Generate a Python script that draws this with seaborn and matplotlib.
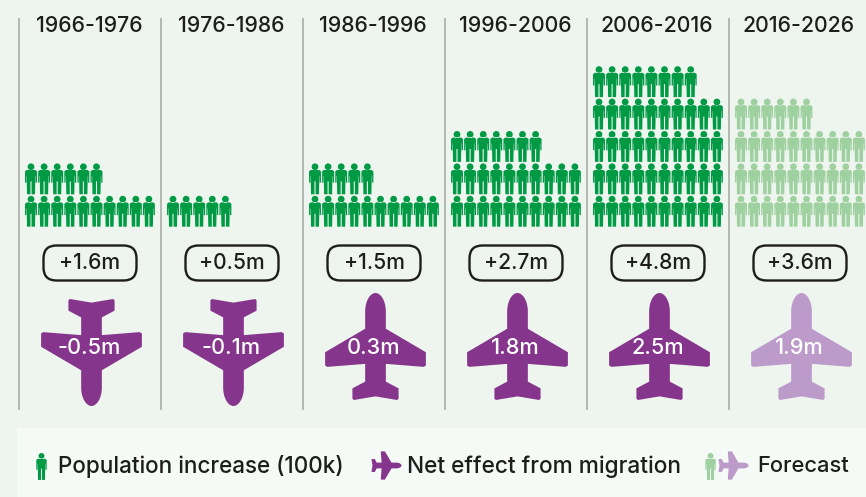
import numpy as np
import pandas as pd
import seaborn as sns
import matplotlib
matplotlib.use("Agg")
import matplotlib.pyplot as plt
from matplotlib.path import Path
from matplotlib.patches import FancyBboxPatch, Rectangle
from matplotlib.transforms import Affine2D

periods = ["1966-1976", "1976-1986", "1986-1996", "1996-2006", "2006-2016", "2016-2026"]
pop_increase = [1.6, 0.5, 1.5, 2.7, 4.8, 3.6]
pop_labels = ["+1.6m", "+0.5m", "+1.5m", "+2.7m", "+4.8m", "+3.6m"]
migration = [-0.5, -0.1, 0.3, 1.8, 2.5, 1.9]
mig_labels = ["-0.5m", "-0.1m", "0.3m", "1.8m", "2.5m", "1.9m"]
forecast = [False, False, False, False, False, True]
legend_labels = ["Population increase (100k)", "Net effect from migration", "Forecast"]

BG = "#EEF5EE"
PANEL = "#F5FAF6"
GREEN = "#009A44"
GREEN_L = "#9ED0A0"
PURPLE = "#85358C"
PURPLE_L = "#BC9BCB"
INK = "#1D1D1B"
RULE = "#A3A8A3"

sns.set_theme(style="white")
plt.rcParams["font.family"] = ["Inter", "DejaVu Sans"]


def person_path():
    head = Path.circle((0, 12.2), 3.4)
    r = [(0, 9.0), (4.2, 9.0), (6.0, 7.6), (6.0, -3.8), (4.7, -3.8), (4.7, 3.0), (4.4, 3.0),
         (4.0, -15.5), (0.55, -15.5), (0.55, -2.5)]
    l = [(-x, y) for x, y in reversed(r[1:])]
    pts = r + l
    body = Path(pts + [pts[0]], [Path.MOVETO] + [Path.LINETO] * (len(pts) - 1) + [Path.CLOSEPOLY])
    return Path.make_compound_path(head, body)


def plane_path():
    L, C = Path.LINETO, Path.CURVE4
    v = [(0, -49.7), (21.5, -53.3), (23, -52), (23, -41.7), (10.3, -35), (10.3, -17.3),
         (48, -20.3), (50.2, -19), (50.2, -5.7), (10.3, 17.7), (10.3, 35),
         (10.3, 45), (5.5, 53.3), (0, 53.3),
         (-5.5, 53.3), (-10.3, 45), (-10.3, 35), (-10.3, 17.7), (-50.2, -5.7), (-50.2, -19),
         (-48, -20.3), (-10.3, -17.3), (-10.3, -35), (-23, -41.7), (-23, -52), (-21.5, -53.3), (0, -49.7)]
    c = [Path.MOVETO, L, L, L, L, L, L, L, L, L, L, C, C, C, C, C, C, L, L, L, L, L, L, L, L, L, L]
    return Path(v, c)


PERSON = person_path()
PLANE_UP = plane_path()
PLANE_DOWN = PLANE_UP.transformed(Affine2D().scale(1, -1))
PLANE_RIGHT = PLANE_UP.transformed(Affine2D().rotate_deg(-90))

fig = plt.figure(figsize=(8.66, 4.97), dpi=100, facecolor=BG)
ax = fig.add_axes([0, 0, 1, 1], facecolor=BG)
ax.set_xlim(0, 866)
ax.set_ylim(497, 0)
ax.axis("off")

PX = 72 / fig.dpi
COL0, COLW = 19, 142


def marker_area(length_px):
    return (length_px * PX) ** 2


# column rules and headers
for i, p in enumerate(periods):
    left = COL0 + COLW * i
    ax.plot([left, left], [18, 410], color=RULE, lw=1.1, solid_capstyle="butt", zorder=1)
    ax.text(left + 70, 26.5, p, ha="center", va="center", fontsize=15.3, fontweight="medium", color=INK)

# people: one icon per 100k
rows = []
for i, (v, f) in enumerate(zip(pop_increase, forecast)):
    for k in range(int(round(v * 10))):
        rows.append({"x": COL0 + COLW * i + 12 + (k % 10) * 13.1,
                     "y": 211.3 - (k // 10) * 32.4,
                     "kind": "forecast" if f else "actual"})
people = pd.DataFrame(rows)
sns.scatterplot(data=people, x="x", y="y", hue="kind", palette={"actual": GREEN, "forecast": GREEN_L},
                marker=PERSON, s=marker_area(31), linewidth=0, legend=False, ax=ax, zorder=2)

# pills
for i, lab in enumerate(pop_labels):
    cx = COL0 + COLW * i + 71
    ax.add_patch(FancyBboxPatch((cx - 39.5, 252.5), 79, 21, boxstyle="round,pad=7,rounding_size=13",
                                fc="none", ec=INK, lw=1.7, zorder=2))
    ax.text(cx, 263, lab, ha="center", va="center", fontsize=15.2, fontweight="medium", color=INK, zorder=3)

# planes
planes = pd.DataFrame({"x": [COL0 + COLW * i + 72 for i in range(len(migration))],
                       "y": [346 if m > 0 else 351.5 for m in migration],
                       "up": [m > 0 for m in migration],
                       "fc": [PURPLE_L if f else PURPLE for f in forecast]})
for (up, fc), g in planes.groupby(["up", "fc"]):
    sns.scatterplot(data=g, x="x", y="y", color=fc, marker=PLANE_UP if up else PLANE_DOWN,
                    s=marker_area(107), linewidth=0, legend=False, ax=ax, zorder=2)
for i, lab in enumerate(mig_labels):
    ax.text(COL0 + COLW * i + 70.5, 348, lab, ha="center", va="center", fontsize=15.6,
            fontweight="medium", color="white", zorder=3)

# legend
ax.add_patch(Rectangle((17, 428), 849, 69, fc=PANEL, ec="none", zorder=1))
ax.scatter([41], [465.5], marker=PERSON, s=marker_area(27), c=GREEN, linewidths=0, zorder=2)
ax.scatter([385.5], [465], marker=PLANE_RIGHT, s=marker_area(30), c=PURPLE, linewidths=0, zorder=2)
ax.scatter([710], [465.5], marker=PERSON, s=marker_area(27), c=GREEN_L, linewidths=0, zorder=2)
ax.scatter([733], [465], marker=PLANE_RIGHT, s=marker_area(30), c=PURPLE_L, linewidths=0, zorder=2)
for x, lab, fs in zip([58, 407, 757], legend_labels, [16.2, 16.3, 15.8]):
    ax.text(x, 466.5, lab, ha="left", va="center", fontsize=fs, fontweight="medium", color=INK, zorder=3)

ax.set_xlim(0, 866)
ax.set_ylim(497, 0)
fig.savefig("out.png", dpi=100, facecolor=BG)
